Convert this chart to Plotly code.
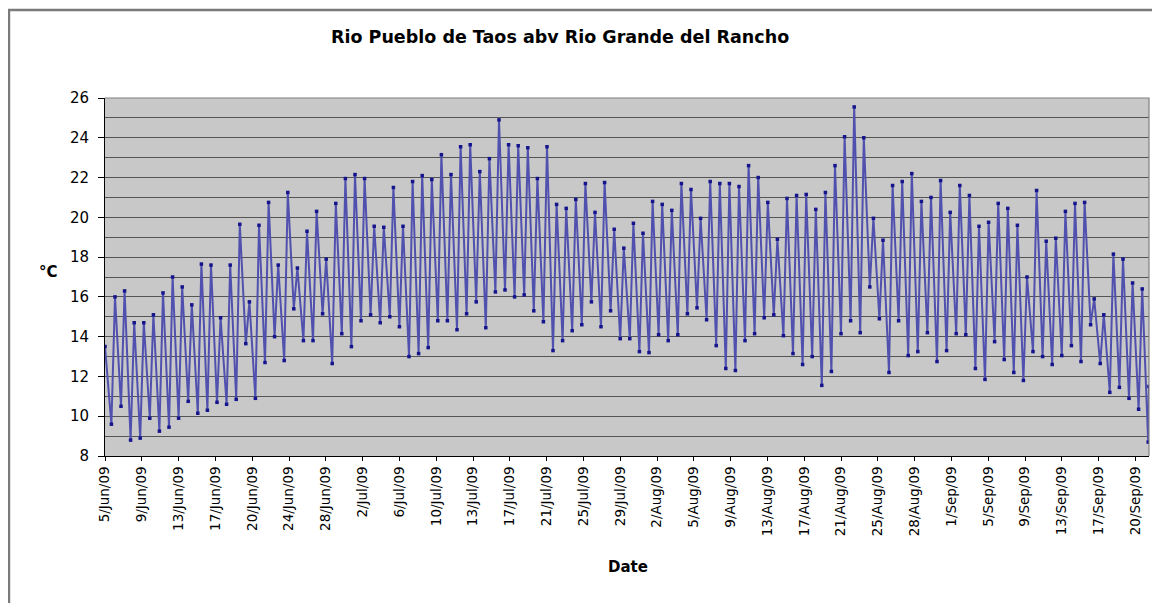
import numpy as np
import pandas as pd
import plotly.graph_objects as go

# ---------------- data ----------------
start_time = "2009-06-05 15:00"
start_value = 13.5
end_time = "2009-09-22 09:00"
end_value = 11.5

# daily maxima (afternoon), 6 Jun 09 ... 21 Sep 09
daily_max = [
    16.0, 16.3, 14.7, 14.7, 15.1, 16.2, 17.0, 16.5, 15.6, 17.65,
    17.6, 14.95, 17.6, 19.65, 15.75, 19.6, 20.75, 17.6, 21.25, 17.45,
    19.3, 20.3, 17.9, 20.7, 21.95, 22.15, 21.95, 19.55, 19.5, 21.5,
    19.55, 21.8, 22.1, 21.9, 23.15, 22.15, 23.55, 23.65, 22.3, 22.95,
    24.9, 23.65, 23.6, 23.5, 21.95, 23.55, 20.65, 20.45, 20.9, 21.7,
    20.25, 21.75, 19.4, 18.45, 19.7, 19.2, 20.8, 20.65, 20.35, 21.7,
    21.4, 19.95, 21.8, 21.7, 21.7, 21.55, 22.6, 22.0, 20.75, 18.9,
    20.95, 21.1, 21.15, 20.4, 21.25, 22.6, 24.05, 25.55, 24.0, 19.95,
    18.85, 21.6, 21.8, 22.2, 20.8, 21.0, 21.85, 20.25, 21.6, 21.1,
    19.55, 19.75, 20.7, 20.45, 19.6, 17.0, 21.35, 18.8, 18.95, 20.3,
    20.7, 20.75, 15.9, 15.1, 18.15, 17.9, 16.7, 16.4,
]

# daily minima (morning), 6 Jun 09 ... 22 Sep 09
daily_min = [
    9.6, 10.5, 8.8, 8.9, 9.9, 9.25, 9.45, 9.9, 10.75, 10.15,
    10.3, 10.7, 10.6, 10.85, 13.65, 10.9, 12.7, 14.0, 12.8, 15.4,
    13.8, 13.8, 15.15, 12.65, 14.15, 13.5, 14.8, 15.1, 14.7, 15.0,
    14.5, 13.0, 13.15, 13.45, 14.8, 14.8, 14.35, 15.15, 15.75, 14.45,
    16.25, 16.35, 16.0, 16.1, 15.3, 14.75, 13.3, 13.8, 14.3, 14.6,
    15.75, 14.5, 15.3, 13.9, 13.9, 13.25, 13.2, 14.1, 13.8, 14.1,
    15.15, 15.45, 14.85, 13.55, 12.4, 12.3, 13.8, 14.15, 14.95, 15.1,
    14.05, 13.15, 12.6, 13.0, 11.55, 12.25, 14.15, 14.8, 14.2, 16.5,
    14.9, 12.2, 14.8, 13.05, 13.25, 14.2, 12.75, 13.3, 14.15, 14.1,
    12.4, 11.85, 13.75, 12.85, 12.2, 11.8, 13.25, 13.0, 12.6, 13.05,
    13.55, 12.75, 14.6, 12.65, 11.2, 11.45, 10.9, 10.35, 8.7,
]

min_hour = 7    # typical time of the daily minimum
max_hour = 16   # typical time of the daily maximum

tick_labels = [
    "5/Jun/09", "9/Jun/09", "13/Jun/09", "17/Jun/09", "20/Jun/09", "24/Jun/09",
    "28/Jun/09", "2/Jul/09", "6/Jul/09", "10/Jul/09", "13/Jul/09", "17/Jul/09",
    "21/Jul/09", "25/Jul/09", "29/Jul/09", "2/Aug/09", "5/Aug/09", "9/Aug/09",
    "13/Aug/09", "17/Aug/09", "21/Aug/09", "25/Aug/09", "28/Aug/09", "1/Sep/09",
    "5/Sep/09", "9/Sep/09", "13/Sep/09", "17/Sep/09", "20/Sep/09",
]
label_every_hours = 92   # the chart labels every 92nd hourly reading

# ---------------- build the series ----------------
t0 = pd.Timestamp(start_time)
day0 = t0.normalize()
times = [t0]
vals = [start_value]
for i, vmin in enumerate(daily_min):
    d = day0 + pd.Timedelta(days=i + 1)
    times.append(d + pd.Timedelta(hours=min_hour))
    vals.append(vmin)
    if i < len(daily_max):
        times.append(d + pd.Timedelta(hours=max_hour))
        vals.append(daily_max[i])
times.append(pd.Timestamp(end_time))
vals.append(end_value)

tick_vals = [t0 + pd.Timedelta(hours=label_every_hours * k) for k in range(len(tick_labels))]

# ---------------- figure ----------------
# the page body has an 8px margin, so the figure starts at (8, 8) in the window
OFF = 8
W, H = 1160 - OFF, 603 - OFF
# desired plot area in window pixels: x 105..1149, y 98..456
PL, PR, PT, PB = 105, 1149, 98, 456
L, T = PL - OFF, PT - OFF
R = (OFF + W) - PR
B = (OFF + H) - PB
pw, ph = PR - PL, PB - PT


def px(x):
    """window x pixel -> paper x"""
    return (x - PL) / pw


def py(y):
    """window y pixel -> paper y"""
    return (PB - y) / ph


fig = go.Figure()
fig.add_trace(go.Scatter(
    x=times, y=vals, mode="lines+markers",
    line=dict(color="#5050ae", width=2.0),
    marker=dict(color="#14148c", size=3.5, symbol="square"),
    showlegend=False, hoverinfo="x+y",
))

font_family = "DejaVu Sans, Liberation Sans, Arial, sans-serif"
grid_col = "#555555"

fig.update_layout(
    width=W, height=H, autosize=False,
    margin=dict(l=L, r=R, t=T, b=B, pad=0),
    paper_bgcolor="white", plot_bgcolor="#c8c8c8",
    font=dict(family=font_family, color="black"),
    xaxis=dict(
        type="date", range=[times[0], times[-1]],
        tickmode="array", tickvals=tick_vals, ticktext=tick_labels,
        tickangle=-90, tickfont=dict(size=13.5, color="black"),
        showgrid=False, zeroline=False,
        showline=True, linecolor="black", linewidth=1,
        ticks="outside", ticklen=4, tickcolor="black",
    ),
    yaxis=dict(
        range=[8, 26], tick0=8, dtick=2,
        tickfont=dict(size=15, color="black"),
        showgrid=True, gridcolor=grid_col, gridwidth=1.3,
        minor=dict(dtick=1, tick0=8, showgrid=True, gridcolor=grid_col, gridwidth=1.3, ticks=""),
        zeroline=False,
        showline=True, linecolor="black", linewidth=1,
        ticks="outside", ticklen=6, tickcolor="black",
        ticklabelstandoff=6,
    ),
    shapes=[
        # plot-area border (top and right)
        dict(type="path", xref="paper", yref="paper",
             path="M 0,1 L 1,1 L 1,0", line=dict(color="#808080", width=1.2)),
        # chart-area frame (top and left edges visible in the window)
        dict(type="path", xref="paper", yref="paper",
             path=f"M 1.2,{py(10)} L {px(9)},{py(10)} L {px(9)},-0.6",
             line=dict(color="#7a7a7a", width=2.4)),
    ],
    annotations=[
        dict(text="<b>Rio Pueblo de Taos abv Rio Grande del Rancho</b>",
             xref="paper", yref="paper", x=px(560), y=py(37),
             xanchor="center", yanchor="middle", showarrow=False,
             font=dict(size=17.5, family=font_family, color="black")),
        dict(text="<b>°C</b>", xref="paper", yref="paper", x=px(48), y=py(272),
             xanchor="center", yanchor="middle", showarrow=False,
             font=dict(size=15, family=font_family, color="black")),
        dict(text="<b>Date</b>", xref="paper", yref="paper", x=px(628), y=py(567),
             xanchor="center", yanchor="middle", showarrow=False,
             font=dict(size=15, family=font_family, color="black")),
    ],
)

fig.write_html("out.html")
